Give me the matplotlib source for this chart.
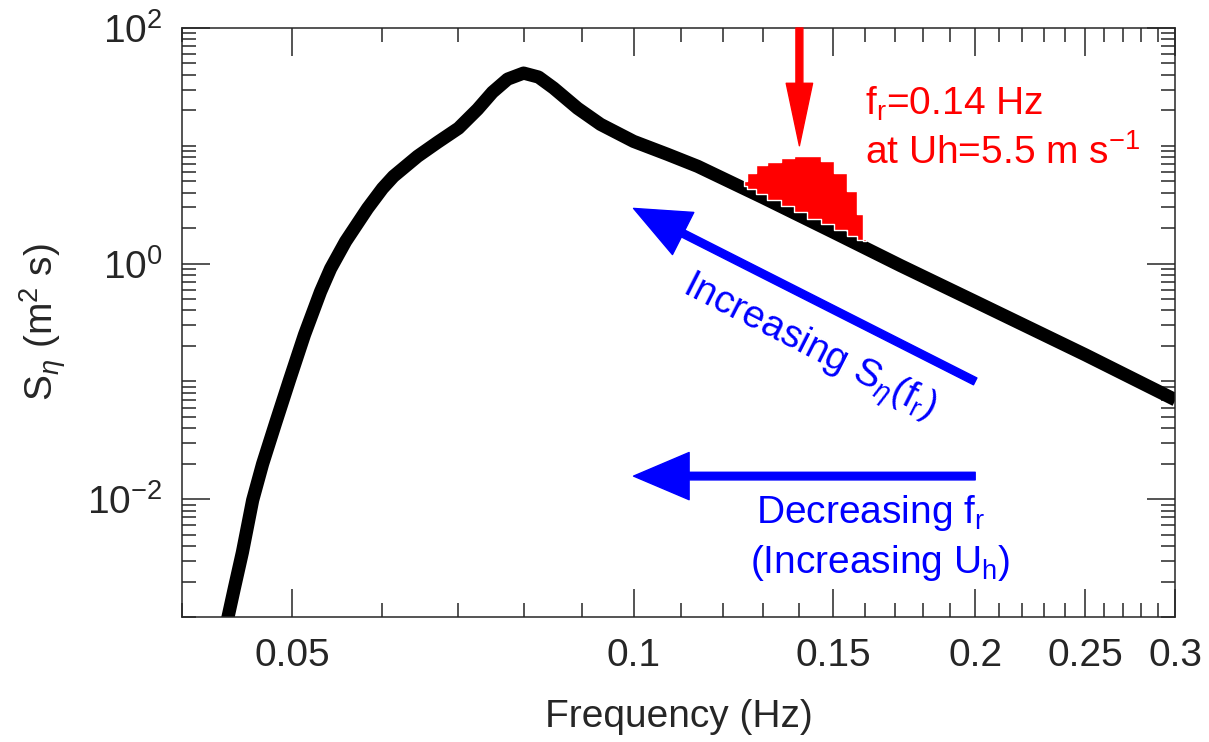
import matplotlib
matplotlib.use("Agg")
import matplotlib.pyplot as plt
from matplotlib.ticker import FixedLocator, NullFormatter
import numpy as np

plt.rcParams['font.family'] = ['Liberation Sans', 'DejaVu Sans']
plt.rcParams['mathtext.fontset'] = 'custom'
plt.rcParams['mathtext.rm'] = 'Liberation Sans'
plt.rcParams['mathtext.it'] = 'Liberation Sans:italic'

# wave spectrum
freq = [0.04344, 0.04387, 0.0445, 0.04522, 0.04617, 0.04711, 0.04837, 0.04976,
        0.05129, 0.05299, 0.05408, 0.05575, 0.05829, 0.06009, 0.06144, 0.06452,
        0.06719, 0.07011, 0.07287, 0.07511, 0.07745, 0.0800, 0.08247, 0.08502,
        0.08927, 0.09352, 0.100, 0.1071, 0.1139, 0.1299, 0.1501, 0.1719,
        0.2001, 0.2501, 0.3003]
spec = [0.000607, 0.000952, 0.00178, 0.00354, 0.0098, 0.0199, 0.0443, 0.103,
        0.249, 0.578, 0.906, 1.54, 2.94, 4.35, 5.50, 8.14,
        10.7, 14.1, 20.4, 28.5, 36.8, 41.4, 38.3, 30.9,
        20.8, 15.2, 10.9, 8.47, 6.69, 3.65, 1.84, 0.961,
        0.475, 0.168, 0.0696]

# red bump around f_r
bump_f = [0.125, 0.1268, 0.1294, 0.1328, 0.1367, 0.1403, 0.1441, 0.1482,
          0.1522, 0.1562, 0.1585, 0.1601]
bump_top = [4.99, 5.83, 6.82, 7.24, 7.83, 8.14, 8.14, 7.38, 5.83, 4.10, 2.61, 1.63]
bump_base = [4.52, 4.26, 3.87, 3.44, 3.06, 2.72, 2.41, 2.15, 1.91, 1.70, 1.60, 1.54]

fr = 0.14
xticks = [0.05, 0.1, 0.15, 0.2, 0.25, 0.3]
xticklabels = ['0.05', '0.1', '0.15', '0.2', '0.25', '0.3']
yticks = [1e-2, 1e0, 1e2]
yticklabels = [r'$\mathregular{10^{-2}}$', r'$\mathregular{10^{0}}$', r'$\mathregular{10^{2}}$']

tc = '#262626'
fs = 28

fig = plt.figure(figsize=(12.09, 7.42), dpi=100)
ax = fig.add_axes([0.1505, 0.1685, 0.8214, 0.7938])
ax.set_xscale('log')
ax.set_yscale('log')
ax.set_xlim(0.04, 0.3)
ax.set_ylim(1e-3, 1e2)

ax.plot(freq, spec, color='k', lw=9.5, solid_joinstyle='round', solid_capstyle='butt')
ax.fill_between(bump_f, bump_base, bump_top, step='mid', facecolor='red',
                edgecolor='white', lw=1.0, zorder=3)

# red arrow at f_r
ax.annotate('', xy=(fr, 10), xytext=(fr, 100), annotation_clip=False,
            arrowprops=dict(facecolor='red', edgecolor='red', width=5,
                            headwidth=19, headlength=45, shrink=0))
ax.text(0.16, 22.6, r'f$_\mathrm{r}$=0.14 Hz', color='red', fontsize=fs,
        ha='left', va='center')
ax.text(0.16, 8.6, r'at Uh=5.5 m s$^\mathrm{-1}$', color='red', fontsize=fs,
        ha='left', va='center')

# blue arrows
ax.annotate('', xy=(0.1, 2.94), xytext=(0.2, 0.1),
            arrowprops=dict(facecolor='blue', edgecolor='blue', width=5.5,
                            headwidth=34, headlength=40, shrink=0))
ax.annotate('', xy=(0.1, 0.0157), xytext=(0.2, 0.0157),
            arrowprops=dict(facecolor='blue', edgecolor='blue', width=5.5,
                            headwidth=34, headlength=40, shrink=0))
ax.text(0.1425, 0.19, r'Increasing S$_\eta$(f$_\mathrm{r}$)', color='blue',
        fontsize=fs, rotation=-27, rotation_mode='anchor', ha='center', va='center')
ax.text(0.1618, 0.0076, r'Decreasing f$_\mathrm{r}$', color='blue', fontsize=fs,
        ha='center', va='center')
ax.text(0.165, 0.0029, r'(Increasing U$_\mathrm{h}$)', color='blue', fontsize=fs,
        ha='center', va='center')

# ticks
ax.xaxis.set_major_locator(FixedLocator(xticks))
ax.set_xticklabels(xticklabels)
ax.xaxis.set_minor_locator(FixedLocator(np.round(np.arange(0.04, 0.301, 0.01), 2)))
ax.xaxis.set_minor_formatter(NullFormatter())
ax.yaxis.set_major_locator(FixedLocator(yticks))
ax.set_yticklabels(yticklabels)
ax.yaxis.set_minor_locator(FixedLocator([m * 10.0 ** k for k in range(-3, 2) for m in range(1, 10)]))
ax.yaxis.set_minor_formatter(NullFormatter())
ax.tick_params(which='both', direction='in', top=True, right=True, color=tc,
               width=1.1, labelsize=fs, labelcolor=tc)
ax.tick_params(axis='x', pad=15)
ax.tick_params(axis='y', pad=14)
ax.tick_params(which='major', length=20)
ax.tick_params(which='minor', length=10)
for s in ax.spines.values():
    s.set_color(tc)
    s.set_linewidth(1.1)

ax.set_xlabel('Frequency (Hz)', fontsize=fs, color=tc, labelpad=18)
ax.set_ylabel(r'S$_\eta$ (m$^2$ s)', fontsize=fs, color=tc, labelpad=14)

fig.savefig('out.png', dpi=100)
